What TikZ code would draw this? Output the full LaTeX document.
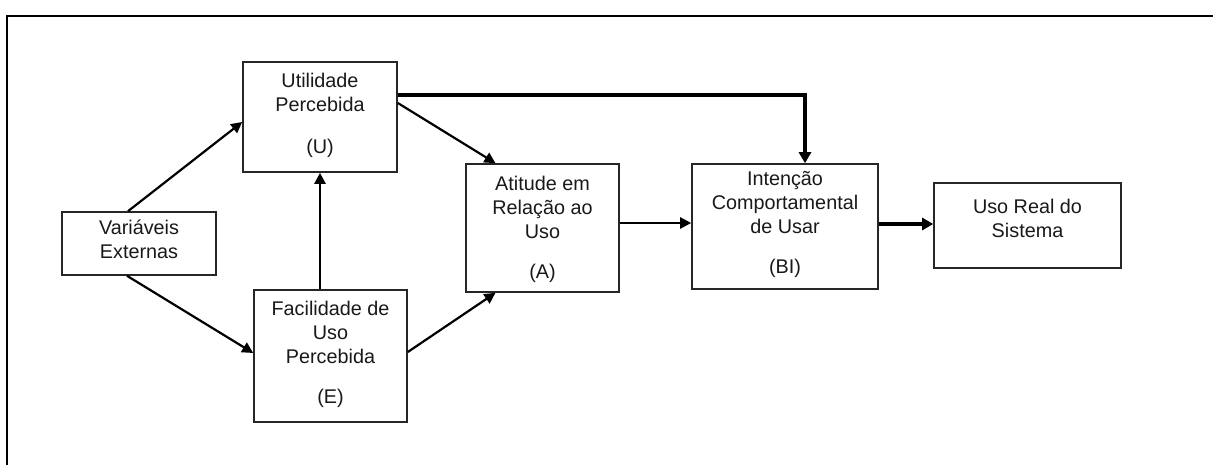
\documentclass[tikz,border=0pt]{standalone}
\usepackage{fontspec}
\setmainfont{Liberation Sans}
\usetikzlibrary{arrows.meta}
\begin{document}
\begin{tikzpicture}[x=1pt,y=-1pt,
  box/.style={draw=black!85,line width=1.6pt,inner sep=0pt,rectangle},
  txt/.style={align=center,inner sep=0pt,anchor=north,font=\fontsize{19.8}{24}\selectfont,text=black!90},
  arr/.style={line width=2.2pt,-{Triangle[length=11pt,width=11pt]}},
  thickarr/.style={line width=3.8pt,-{Triangle[length=11pt,width=12pt]}}]
\useasboundingbox (0,0) rectangle (1213,465);
\fill[white] (0,0) rectangle (1213,465);
\draw[line width=2.2pt] (1220,16) -- (7,16) -- (7,472);
% boxes
\node[box,minimum width=154pt,minimum height=63pt] (V) at (139,243.5) {};
\node[box,minimum width=154pt,minimum height=110pt] (U) at (320,117) {};
\node[box,minimum width=153pt,minimum height=132pt] (E) at (330.5,356) {};
\node[box,minimum width=153pt,minimum height=128pt] (A) at (542.5,228) {};
\node[box,minimum width=186pt,minimum height=125pt] (BI) at (785,226.5) {};
\node[box,minimum width=187pt,minimum height=85pt] (R) at (1027.5,225.5) {};
% texts
\node[txt] (Vt) at (139,220) {Variáveis\\Externas};
\node[txt] (Ut) at (320,73) {Utilidade\\Percebida\\[18pt](U)};
\node[txt] (Et) at (330.5,301) {Facilidade de\\Uso\\Percebida\\[16pt](E)};
\node[txt] (At) at (542.5,176) {Atitude em\\Relação ao\\Uso\\[16pt](A)};
\node[txt] (BIt) at (785,171) {Intenção\\Comportamental\\de Usar\\[16pt](BI)};
\node[txt] (Rt) at (1027.5,199) {Uso Real do\\Sistema};
% connectors
\draw[arr] ([xshift=-11pt]V.north) -- ([yshift=-5pt]U.west);
\draw[arr] ([xshift=-12pt]V.south) -- ([yshift=3pt]E.west);
\draw[arr] (U.south |- E.north) -- (U.south);
\draw[arr] ([yshift=14pt]U.east) -- ([xshift=-47pt]A.north);
\draw[arr] ([yshift=4pt]E.east) -- ([xshift=-47pt]A.south);
\draw[line width=3.6pt,-{Triangle[length=11pt,width=12pt]}] ([yshift=22pt]U.east) -| ([xshift=20pt]BI.north);
\draw[arr] ([yshift=5pt]A.east) -- (BI.west |- 0,223);
\draw[thickarr] ([yshift=2.5pt]BI.east) -- (R.west |- 0,224);
\end{tikzpicture}
\end{document}
